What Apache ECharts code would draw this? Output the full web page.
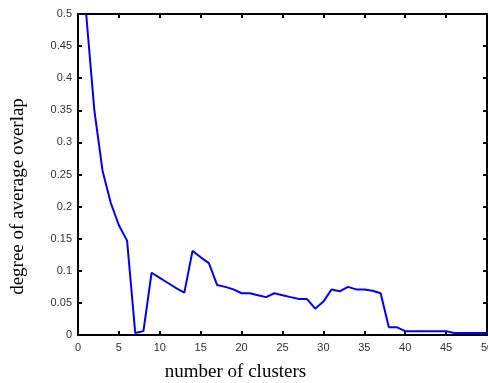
<!DOCTYPE html>
<html>
<head>
<meta charset="utf-8">
<script src="https://cdn.jsdelivr.net/npm/echarts@6/dist/echarts.min.js"></script>
<style>
  html, body { margin: 0; padding: 0; background: #fff; }
  #chart { width: 488px; height: 383px; }
</style>
</head>
<body>
<div id="chart"></div>
<script>
const clusters = [1, 2, 3, 4, 5, 6, 7, 8, 9, 10,
  11, 12, 13, 14, 15, 16, 17, 18, 19, 20,
  21, 22, 23, 24, 25, 26, 27, 28, 29, 30,
  31, 32, 33, 34, 35, 36, 37, 38, 39, 40,
  41, 42, 43, 44, 45, 46, 47, 48, 49, 50]
const overlap = [0.5, 0.35, 0.256, 0.206, 0.171, 0.147, 0.003, 0.006, 0.097, 0.089,
  0.081, 0.073, 0.066, 0.131, 0.121, 0.112, 0.078, 0.075, 0.071, 0.065,
  0.065, 0.062, 0.059, 0.065, 0.062, 0.059, 0.056, 0.056, 0.041, 0.052,
  0.071, 0.068, 0.075, 0.071, 0.071, 0.069, 0.065, 0.012, 0.012, 0.006,
  0.006, 0.006, 0.006, 0.006, 0.006, 0.003, 0.003, 0.003, 0.003, 0.003]

const chart = echarts.init(document.getElementById('chart'))

const frameLine = { show: true, onZero: false, lineStyle: { color: '#000', width: 2 } }
const ticksIn = { show: true, inside: true, length: 4, lineStyle: { color: '#000', width: 2 } }
const tickFont = { color: '#333', fontSize: 11, fontFamily: 'Liberation Sans, Arial, sans-serif' }
const titleFont = '19px "Liberation Serif", "Times New Roman", serif'

const option = {
  animation: false,
  grid: { left: 78, right: 1, top: 14, bottom: 48, containLabel: false, outerBoundsMode: 'none' },
  xAxis: [
    {
      type: 'value', min: 0, max: 50, interval: 5,
      axisLine: frameLine, axisTick: ticksIn, splitLine: { show: false },
      axisLabel: { ...tickFont, margin: 7 }
    },
    {
      type: 'value', position: 'top', min: 0, max: 50, interval: 5,
      axisLine: frameLine, axisTick: ticksIn, splitLine: { show: false },
      axisLabel: { show: false }
    }
  ],
  yAxis: [
    {
      type: 'value', min: 0, max: 0.5, interval: 0.05,
      axisLine: frameLine, axisTick: ticksIn, splitLine: { show: false },
      axisLabel: { ...tickFont, margin: 6 }
    },
    {
      type: 'value', position: 'right', min: 0, max: 0.5, interval: 0.05,
      axisLine: frameLine, axisTick: ticksIn, splitLine: { show: false },
      axisLabel: { show: false }
    }
  ],
  graphic: [
    {
      type: 'text', x: 235.5, y: 372,
      style: { text: 'number of clusters', font: titleFont, fill: '#000', align: 'center', verticalAlign: 'middle' }
    },
    {
      type: 'text', x: 18.5, y: 196.5, rotation: Math.PI / 2,
      style: { text: 'degree of average overlap', font: titleFont, fill: '#000', align: 'center', verticalAlign: 'middle' }
    }
  ],
  series: [{
    type: 'line',
    data: clusters.map((c, i) => [c, overlap[i]]),
    symbol: 'none',
    lineStyle: { color: '#0000ff', width: 2 },
    clip: true
  }]
}

chart.setOption(option)
</script>
</body>
</html>
